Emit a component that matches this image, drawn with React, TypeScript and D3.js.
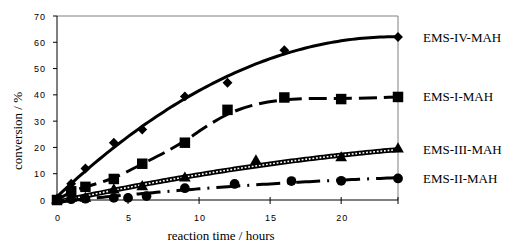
import { useEffect, useRef } from 'react'
import * as d3 from 'd3'

const yTicks = [0, 10, 20, 30, 40, 50, 60, 70]
const xTicks = [0, 5, 10, 15, 20]

const ivTime = [0, 1, 2, 4, 6, 9, 12, 16, 24]
const ivConv = [0, 6.2, 12, 21.8, 26.8, 39.4, 44.6, 57, 62]

const iTime = [0, 1, 2, 4, 6, 9, 12, 16, 20, 24]
const iConv = [0, 3.3, 5, 8, 13.8, 21.8, 34.3, 39, 38.4, 39.2]

const iiiTime = [0, 1, 2, 4, 6, 9, 14, 20, 24]
const iiiConv = [0, 0.6, 0.6, 3.8, 5, 8.3, 14.8, 16, 19.4]

const iiTime = [0, 1, 2, 4, 5, 6.3, 9, 12.5, 16.5, 20, 24]
const iiConv = [0, 0.3, 0.5, 0.8, 0.8, 1.5, 4.5, 6.1, 7.2, 7.3, 8.2]

// least squares polynomial, like the spreadsheet trend lines
function fitPoly(xs: number[], ys: number[], deg: number) {
  const n = deg + 1
  const A: number[][] = []
  for (let r = 0; r < n; r++) {
    const row: number[] = []
    for (let c = 0; c < n; c++) row.push(d3.sum(xs, x => Math.pow(x, r + c)))
    row.push(d3.sum(xs, (x, i) => ys[i] * Math.pow(x, r)))
    A.push(row)
  }
  for (let i = 0; i < n; i++) {
    let p = i
    for (let k = i + 1; k < n; k++) if (Math.abs(A[k][i]) > Math.abs(A[p][i])) p = k
    ;[A[i], A[p]] = [A[p], A[i]]
    for (let k = 0; k < n; k++) {
      if (k === i) continue
      const f = A[k][i] / A[i][i]
      for (let c = i; c <= n; c++) A[k][c] -= f * A[i][c]
    }
  }
  const coef = A.map((row, i) => row[n] / row[i])
  return (x: number) => coef.reduce((s, c, i) => s + c * Math.pow(x, i), 0)
}

export default function App() {
  const svgRef = useRef<SVGSVGElement>(null)

  useEffect(() => {
    if (!svgRef.current) return
    const svg = d3.select(svgRef.current)
    svg.selectAll('*').remove()

    const left = 57, top = 16, right = 398, bottom = 200
    const x = d3.scaleLinear().domain([0, 24]).range([left, right])
    const y = d3.scaleLinear().domain([0, 70]).range([bottom, top])

    const tickFont = 'Liberation Sans, Arial, sans-serif'
    const serif = 'Liberation Serif, Times New Roman, serif'

    // frame: grey top/right
    svg.append('path')
      .attr('d', `M${left},${top}H${right}V${bottom}`)
      .attr('fill', 'none').attr('stroke', '#808080').attr('stroke-width', 1)

    // y axis
    svg.append('line')
      .attr('x1', left).attr('x2', left).attr('y1', top).attr('y2', bottom)
      .attr('stroke', '#000')
    yTicks.forEach(t => {
      svg.append('line')
        .attr('x1', left - 4).attr('x2', left).attr('y1', y(t)).attr('y2', y(t))
        .attr('stroke', '#000')
      svg.append('text')
        .attr('x', 46).attr('y', y(t) + 3.5)
        .attr('text-anchor', 'end')
        .attr('font-family', tickFont).attr('font-size', 9).attr('letter-spacing', 1)
        .text(t)
    })

    // x axis
    svg.append('line')
      .attr('x1', left).attr('x2', right).attr('y1', bottom).attr('y2', bottom)
      .attr('stroke', '#000')
    xTicks.concat([24]).forEach(t => {
      svg.append('line')
        .attr('x1', x(t)).attr('x2', x(t)).attr('y1', bottom - 3).attr('y2', bottom + 4)
        .attr('stroke', '#000')
    })
    xTicks.forEach(t => {
      svg.append('text')
        .attr('x', x(t) + 1).attr('y', 221)
        .attr('text-anchor', 'middle')
        .attr('font-family', tickFont).attr('font-size', 9).attr('letter-spacing', 1)
        .text(t)
    })

    svg.append('text')
      .attr('x', 221).attr('y', 240)
      .attr('text-anchor', 'middle')
      .attr('font-family', serif).attr('font-size', 13)
      .text('reaction time / hours')
    svg.append('text')
      .attr('transform', 'translate(22,131) rotate(-90)')
      .attr('text-anchor', 'middle')
      .attr('font-family', serif).attr('font-size', 13)
      .text('conversion / %')

    const grid = d3.range(0, 24.01, 0.25)
    const curve = (f: (t: number) => number) =>
      d3.line<number>().x(t => x(t)).y(t => y(f(t)))(grid)

    const fIV = fitPoly(ivTime, ivConv, 2)
    const fIII = fitPoly(iiiTime, iiiConv, 2)
    const fII = fitPoly(iiTime, iiConv, 2)
    // EMS-I levels off, a smoothed spline suits it better than a polynomial
    const smoothI = d3.line<number>()
      .x(t => x(t))
      .y((t, i) => y(iConv[i]))
      .curve(d3.curveBasis)(iTime)

    // trend lines
    svg.append('path').attr('d', curve(fIII))
      .attr('fill', 'none').attr('stroke', '#000').attr('stroke-width', 5)
    svg.append('path').attr('d', curve(fIII))
      .attr('fill', 'none').attr('stroke', '#fff').attr('stroke-width', 1.6)
      .attr('stroke-dasharray', '1.8,1.8')
    svg.append('path').attr('d', curve(fII))
      .attr('fill', 'none').attr('stroke', '#000').attr('stroke-width', 3)
      .attr('stroke-dasharray', '24,7,2,7')
    svg.append('path').attr('d', smoothI)
      .attr('fill', 'none').attr('stroke', '#000').attr('stroke-width', 3)
      .attr('stroke-dasharray', '18,7')
    svg.append('path').attr('d', curve(fIV))
      .attr('fill', 'none').attr('stroke', '#000').attr('stroke-width', 3)

    // markers
    const sym = (type: d3.SymbolType, size: number, ts: number[], vs: number[]) => {
      svg.append('g').selectAll('path')
        .data(ts)
        .enter().append('path')
        .attr('transform', (t, i) => `translate(${x(t)},${y(vs[i])})`)
        .attr('d', d3.symbol().type(type).size(size)())
        .attr('fill', '#000')
    }
    sym(d3.symbolCircle, 75, iiTime, iiConv)
    sym(d3.symbolTriangle, 60, iiiTime, iiiConv)
    sym(d3.symbolSquare, 110, iTime, iConv)
    sym(d3.symbolDiamond2, 62, ivTime, ivConv)

    const labels: [string, number][] = [
      ['EMS-IV-MAH', ivConv[ivConv.length - 1]],
      ['EMS-I-MAH', iConv[iConv.length - 1]],
      ['EMS-III-MAH', iiiConv[iiiConv.length - 1]],
      ['EMS-II-MAH', iiConv[iiConv.length - 1]],
    ]
    labels.forEach(([name, v]) => {
      svg.append('text')
        .attr('x', 423).attr('y', y(v) + 4.5)
        .attr('font-family', serif).attr('font-size', 13)
        .text(name)
    })
  }, [])

  return (
    <svg
      ref={svgRef}
      width={529}
      height={247}
      style={{ position: 'absolute', left: 0, top: 0, background: '#fff' }}
    />
  )
}
